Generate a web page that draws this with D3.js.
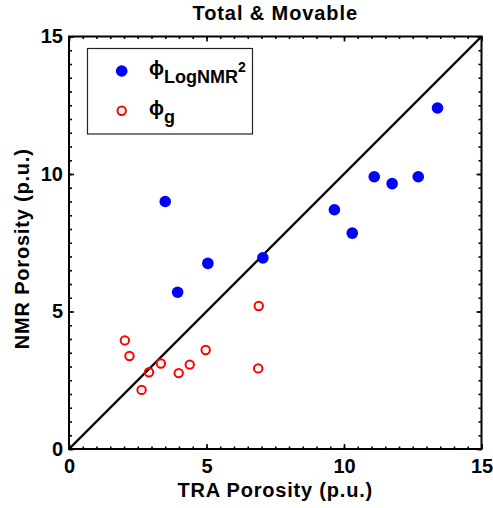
<!DOCTYPE html>
<html>
<head>
<meta charset="utf-8">
<script src="https://cdn.jsdelivr.net/npm/d3@7"></script>
<style>
  html, body { margin: 0; padding: 0; background: #fff; }
  svg { display: block; }
  text { font-family: "Liberation Sans", Arial, sans-serif; font-weight: bold; fill: #000; }
</style>
</head>
<body>
<svg id="chart" width="493" height="508"></svg>
<script>
// TRA porosity vs NMR porosity (p.u.)
const traLogNMR = [3.5, 5.05, 3.95, 7.05, 13.4, 11.1, 11.75, 12.7, 9.65, 10.3];
const nmrLogNMR = [9.0, 6.75, 5.7, 6.95, 12.4, 9.9, 9.65, 9.9, 8.7, 7.85];
const traG = [2.03, 2.2, 2.64, 2.91, 3.34, 3.99, 4.39, 4.97, 6.88, 6.9];
const nmrG = [3.95, 3.38, 2.15, 2.79, 3.11, 2.76, 3.07, 3.6, 2.93, 5.2];
const majorTicks = [0, 5, 10, 15];
const axisDomain = [0, 15];
const titleText = "Total & Movable";
const xLabel = "TRA Porosity (p.u.)";
const yLabel = "NMR Porosity (p.u.)";

const svg = d3.select("#chart");
const plotLeft = 69, plotRight = 481.5, plotTop = 36.5, plotBottom = 449;

const x = d3.scaleLinear().domain(axisDomain).range([plotLeft, plotRight]);
const y = d3.scaleLinear().domain(axisDomain).range([plotBottom, plotTop]);
const minorTicks = d3.range(axisDomain[0], axisDomain[1] + 0.001, 0.5);

// ticks on all four sides, pointing inward
function tickAxis(gen, scale, values, size, transform, fmt, pad) {
  const a = gen(scale).tickValues(values).tickSizeInner(size).tickSizeOuter(0);
  a.tickFormat(fmt || (() => ""));
  if (pad !== undefined) a.tickPadding(pad);
  const g = svg.append("g").attr("transform", transform).call(a);
  g.select(".domain").remove();
  g.selectAll(".tick line").attr("stroke", "#000").attr("stroke-width", 1.6);
  return g;
}
tickAxis(d3.axisBottom, x, minorTicks, -2.5, `translate(0,${plotBottom})`);
tickAxis(d3.axisTop, x, minorTicks, -2.5, `translate(0,${plotTop})`);
tickAxis(d3.axisLeft, y, minorTicks, -3, `translate(${plotLeft},0)`);
tickAxis(d3.axisRight, y, minorTicks, -3, `translate(${plotRight},0)`);

const xAx = tickAxis(d3.axisBottom, x, majorTicks, -5, `translate(0,${plotBottom})`, d3.format("d"), 10);
const yAx = tickAxis(d3.axisLeft, y, majorTicks, -5, `translate(${plotLeft},0)`, d3.format("d"), 6);
[xAx, yAx].forEach(g => g.selectAll("text")
  .attr("font-size", 20).attr("font-family", "Liberation Sans, Arial, sans-serif")
  .attr("font-weight", "bold").attr("fill", "#000"));
tickAxis(d3.axisTop, x, majorTicks, -5, `translate(0,${plotTop})`);
tickAxis(d3.axisRight, y, majorTicks, -5, `translate(${plotRight},0)`);

// plot frame
svg.append("rect")
  .attr("x", plotLeft).attr("y", plotTop)
  .attr("width", plotRight - plotLeft).attr("height", plotBottom - plotTop)
  .attr("fill", "none").attr("stroke", "#000").attr("stroke-width", 2);

// 1:1 line
svg.append("line")
  .attr("x1", x(axisDomain[0])).attr("y1", y(axisDomain[0]))
  .attr("x2", x(axisDomain[1])).attr("y2", y(axisDomain[1]))
  .attr("stroke", "#000").attr("stroke-width", 2.4);

// phi_g: open red circles
svg.append("g").selectAll("circle")
  .data(d3.zip(traG, nmrG)).join("circle")
  .attr("cx", d => x(d[0])).attr("cy", d => y(d[1]))
  .attr("r", 4.2).attr("fill", "none").attr("stroke", "#ff0000").attr("stroke-width", 2);

// phi_LogNMR^2: filled blue circles
svg.append("g").selectAll("circle")
  .data(d3.zip(traLogNMR, nmrLogNMR)).join("circle")
  .attr("cx", d => x(d[0])).attr("cy", d => y(d[1]))
  .attr("r", 5.8).attr("fill", "#0000ff");

// title and axis labels
svg.append("text").attr("x", (plotLeft + plotRight) / 2).attr("y", 20)
  .attr("text-anchor", "middle").attr("font-size", 20).attr("letter-spacing", 0.9)
  .text(titleText);
svg.append("text").attr("x", (plotLeft + plotRight) / 2).attr("y", 497)
  .attr("text-anchor", "middle").attr("font-size", 20).attr("letter-spacing", 0.8)
  .text(xLabel);
svg.append("text")
  .attr("transform", `translate(29,${(plotTop + plotBottom) / 2 + 6}) rotate(-90)`)
  .attr("text-anchor", "middle").attr("font-size", 20).attr("letter-spacing", 0.8)
  .text(yLabel);

// legend
const lg = svg.append("g");
lg.append("rect").attr("x", 87.5).attr("y", 48.5).attr("width", 165).attr("height", 85.5)
  .attr("fill", "#fff").attr("stroke", "#222").attr("stroke-width", 1.2);
lg.append("circle").attr("cx", 121.7).attr("cy", 71).attr("r", 5.8).attr("fill", "#0000ff");
lg.append("circle").attr("cx", 121.7).attr("cy", 110.7).attr("r", 4.2)
  .attr("fill", "none").attr("stroke", "#ff0000").attr("stroke-width", 2);

const t1 = lg.append("text").attr("x", 149).attr("y", 75).attr("font-size", 20);
t1.append("tspan").text("\u03D5");
t1.append("tspan").attr("dy", 8).attr("font-size", 18).text("LogNMR");
t1.append("tspan").attr("dy", -11).attr("font-size", 14).text("2");

const t2 = lg.append("text").attr("x", 149).attr("y", 115).attr("font-size", 20);
t2.append("tspan").text("\u03D5");
t2.append("tspan").attr("dy", 8).attr("font-size", 18).text("g");
</script>
</body>
</html>
